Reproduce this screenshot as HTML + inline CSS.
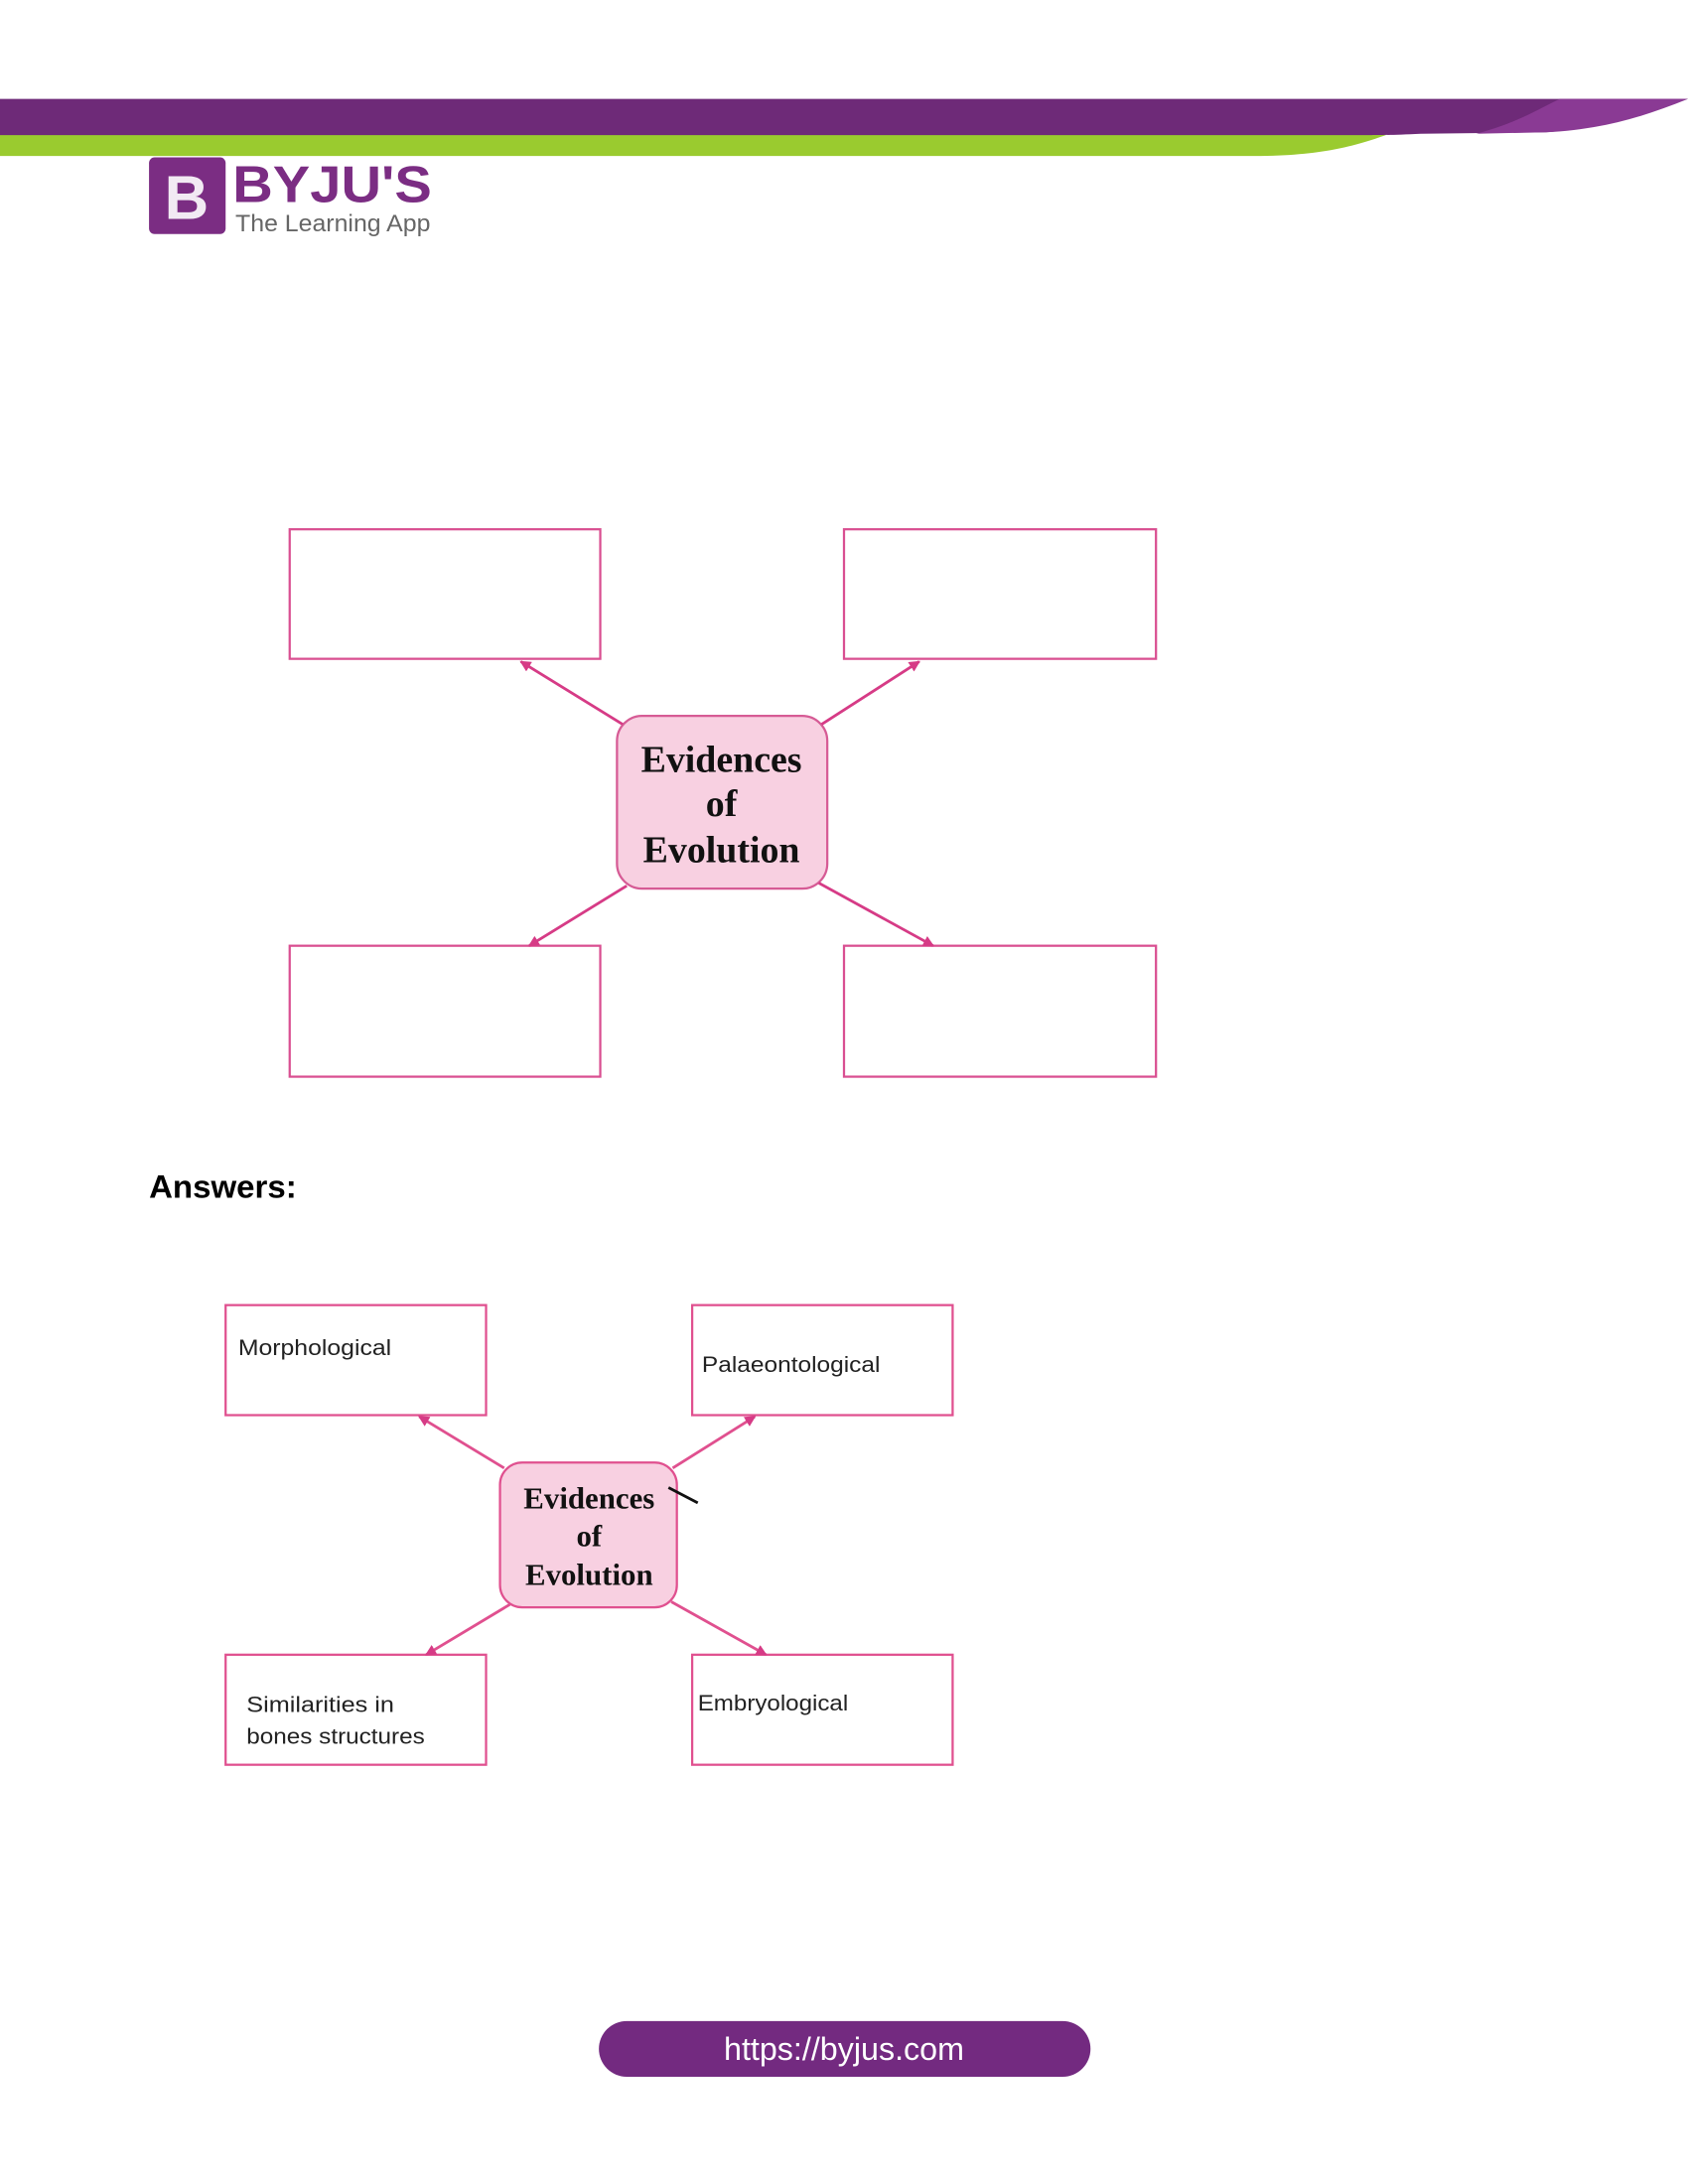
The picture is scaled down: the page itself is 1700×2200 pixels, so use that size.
<!DOCTYPE html>
<html><head><meta charset="utf-8"><style>
html,body{margin:0;padding:0;background:#fff;}
svg{display:block;}
</style></head><body>
<svg width="1700" height="2200" viewBox="0 0 1212 1568" preserveAspectRatio="none" xmlns="http://www.w3.org/2000/svg">
<defs>
<marker id="ah" markerWidth="8" markerHeight="8" refX="7" refY="4" orient="auto" markerUnits="userSpaceOnUse">
<path d="M0,0 L8,4 L0,8 z" fill="#d63b86"/>
</marker>
</defs>
<rect width="1212" height="1568" fill="#fff"/>
<path d="M0,96 L0,112 L900,112 C950,112 975,104 995,97 L995,96 z" fill="#9acb2f"/>
<path d="M0,71 L1212,71 C1180,82 1150,92 1110,95 L1020,96 C1000,97 990,97 985,97 L0,97 z" fill="#6e2a78"/>
<path d="M1120,71 L1212,71 C1180,84 1150,93 1110,95 L1060,96 C1090,88 1105,78 1120,71 z" fill="#8a3a94"/>
<rect x="107" y="113" width="55" height="55" rx="4" fill="#7b2d83"/>
<text x="134" y="157" font-family="Liberation Sans, sans-serif" font-size="44" font-weight="bold" fill="#fff" fill-opacity="0.9" text-anchor="middle">B</text>
<text x="167" y="145" font-family="Liberation Sans, sans-serif" font-size="37" font-weight="bold" fill="#7b2d83" textLength="143" lengthAdjust="spacingAndGlyphs">BYJU'S</text>
<text x="169" y="166" font-family="Liberation Sans, sans-serif" font-size="17" fill="#666" textLength="140" lengthAdjust="spacingAndGlyphs">The Learning App</text>

<g fill="none" stroke="#d94f91" stroke-width="1.6">
<rect x="208" y="380" width="223" height="93"/>
<rect x="606" y="380" width="224" height="93"/>
<rect x="208" y="679" width="223" height="94"/>
<rect x="606" y="679" width="224" height="94"/>
</g>
<rect x="443" y="514" width="151" height="124" rx="18" fill="#f8d0e1" stroke="#d65b95" stroke-width="1.6"/>
<g stroke="#d63b86" stroke-width="2" marker-end="url(#ah)">
<line x1="447" y1="520" x2="374" y2="475"/>
<line x1="590" y1="520" x2="660" y2="475"/>
<line x1="450" y1="636" x2="380" y2="679"/>
<line x1="588" y1="634" x2="670" y2="679"/>
</g>
<g font-family="Liberation Serif, serif" font-size="27" font-weight="bold" fill="#111" text-anchor="middle">
<text x="518" y="554">Evidences</text>
<text x="518" y="586">of</text>
<text x="518" y="619">Evolution</text>
</g>

<text x="107" y="860" font-family="Liberation Sans, sans-serif" font-size="23" font-weight="bold" fill="#000" textLength="106" lengthAdjust="spacingAndGlyphs">Answers:</text>

<g fill="none" stroke="#e0508f" stroke-width="1.6">
<rect x="162" y="937" width="187" height="79"/>
<rect x="497" y="937" width="187" height="79"/>
<rect x="162" y="1188" width="187" height="79"/>
<rect x="497" y="1188" width="187" height="79"/>
</g>
<rect x="359" y="1050" width="127" height="104" rx="16" fill="#f8d0e1" stroke="#e0508f" stroke-width="1.6"/>
<g stroke="#e0508f" stroke-width="2" marker-end="url(#ah)">
<line x1="362" y1="1054" x2="301" y2="1017"/>
<line x1="483" y1="1054" x2="542" y2="1017"/>
<line x1="366" y1="1152" x2="306" y2="1188"/>
<line x1="482" y1="1150" x2="550" y2="1188"/>
</g>
<line x1="480" y1="1068" x2="501" y2="1079" stroke="#111" stroke-width="2"/>
<g font-family="Liberation Serif, serif" font-size="22" font-weight="bold" fill="#111" text-anchor="middle">
<text x="423" y="1083">Evidences</text>
<text x="423" y="1110">of</text>
<text x="423" y="1138">Evolution</text>
</g>
<g font-family="Liberation Sans, sans-serif" font-size="16" fill="#222" lengthAdjust="spacingAndGlyphs">
<text x="171" y="973" textLength="110" lengthAdjust="spacingAndGlyphs">Morphological</text>
<text x="504" y="985" textLength="128" lengthAdjust="spacingAndGlyphs">Palaeontological</text>
<text x="177" y="1229" textLength="106" lengthAdjust="spacingAndGlyphs">Similarities in</text>
<text x="177" y="1252" textLength="128" lengthAdjust="spacingAndGlyphs">bones structures</text>
<text x="501" y="1228" textLength="108" lengthAdjust="spacingAndGlyphs">Embryological</text>
</g>

<rect x="430" y="1451" width="353" height="40" rx="20" fill="#732a80"/>
<text x="606" y="1479" font-family="Liberation Sans, sans-serif" font-size="23" fill="#fff" text-anchor="middle">https://byjus.com</text>
</svg>
</body></html>
